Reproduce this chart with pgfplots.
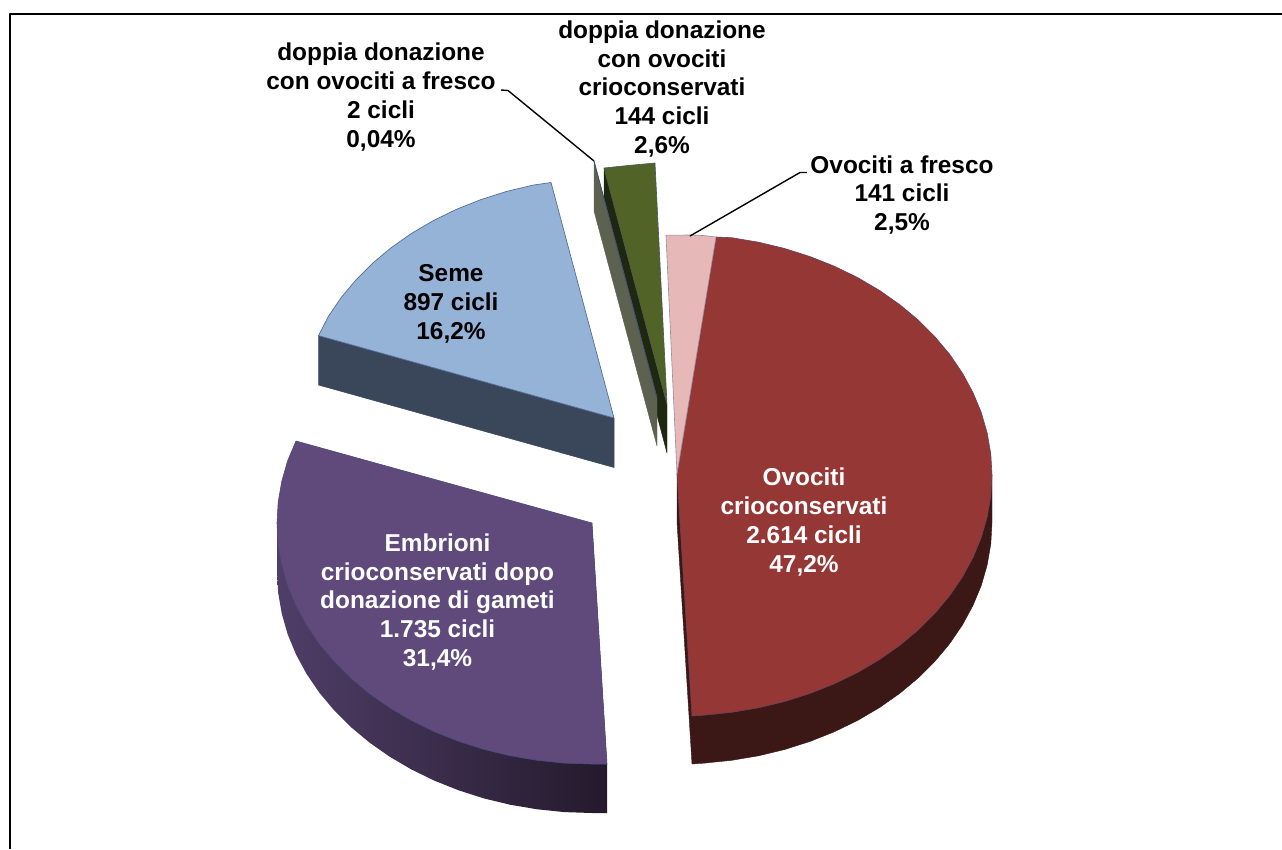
\documentclass[border=0pt]{standalone}
\usepackage{fontspec}
\setmainfont{Liberation Sans}
\usepackage{pgfplots}
\pgfplotsset{compat=1.18}
\definecolor{edge}{HTML}{3A4F80}
\definecolor{redtop}{HTML}{953735}
\definecolor{redside}{HTML}{3B1715}
\definecolor{purtop}{HTML}{604A7B}
\definecolor{pursideL}{HTML}{4F3E68}
\definecolor{pursideR}{HTML}{241A2C}
\definecolor{blutop}{HTML}{95B3D7}
\definecolor{bluside}{HTML}{3A475A}
\definecolor{pinktop}{HTML}{E6B9B8}
\definecolor{grntop}{HTML}{526328}
\definecolor{grnside}{HTML}{1F2710}
\definecolor{greyside}{HTML}{5C6150}
\tikzset{lbl/.style={align=center, font=\fontsize{24.4}{28.7}\selectfont\bfseries, inner sep=0pt}}
\begin{document}
\begin{tikzpicture}
\path[use as bounding box] (0,0) rectangle (1282pt,849pt);
\begin{axis}[
  at={(0,0)}, anchor=south west,
  scale only axis, width=1282pt, height=849pt,
  xmin=0, xmax=1282, ymin=0, ymax=849, y dir=reverse,
  hide axis, clip=true,
  every axis plot/.append style={line join=round},
]
% blue slice
\addplot[fill=bluside, draw=bluside, line width=0.5pt] coordinates {(318.5,335.6)(614,418)(614,467.5)(318.5,385)} --cycle;
\addplot[fill=blutop, draw=edge!70!blutop, line width=0.7pt] coordinates {(614,418)(318.5,335.6)(328.5,316.2)(341.2,297.5)(356,279.8)(372.7,263.1)(391.3,247.6)(411.5,233.4)(433.3,220.6)(456.5,209.3)(480.9,199.6)(506.3,191.5)(532.5,185.2)(551,182.5)} --cycle;
% purple slice
\addplot[left color=pursideL, right color=pursideR, draw=none] coordinates {(277,523)(592,523)(607,764)(607,813)(592,813)(564.5,812.1)(537.3,809.3)(510.5,804.8)(484.3,798.5)(458.9,790.4)(434.5,780.7)(411.3,769.4)(389.5,756.6)(369.3,742.4)(350.7,726.9)(334,710.2)(319.2,692.5)(306.5,673.8)(296,654.4)(287.7,634.4)(281.8,613.8)(278.2,593)(277,572)} --cycle;
\addplot[fill=purtop, draw=edge!60!purtop, line width=0.6pt] coordinates {(592,523)(607,764)(592,764)(564.5,763.1)(537.3,760.3)(510.5,755.8)(484.3,749.5)(458.9,741.4)(434.5,731.7)(411.3,720.4)(389.5,707.6)(369.3,693.4)(350.7,677.9)(334,661.2)(319.2,643.5)(306.5,624.8)(296,605.4)(287.7,585.4)(281.8,564.8)(278.2,544)(277,523)(278.2,502)(281.8,481.2)(287.7,460.6)(296,441)} --cycle;
% dark green slice side
\addplot[fill=grnside, draw=grnside, line width=0.4pt] coordinates {(604,168)(667,405)(667,453)(604,216)} --cycle;
% tiny grey slice side
\addplot[fill=greyside, draw=greyside, line width=0.4pt] coordinates {(594,161)(657,398)(657,446)(594,211)} --cycle;
\addplot[draw=edge, line width=0.8pt] coordinates {(594,161)(657,398)};
% green top
\addplot[fill=grntop, draw=edge!50!grntop, line width=0.6pt] coordinates {(667,404)(604,168)(630,165.3)(655,163)} --cycle;
% red slice
\addplot[fill=redside, draw=redside, line width=0.4pt] coordinates {(992,475)(677,474)(677,522)(692,764)(704.5,763.1)(731.7,760.3)(758.5,755.8)(784.7,749.5)(810.1,741.4)(834.5,731.7)(857.7,720.4)(879.5,707.6)(899.7,693.4)(918.3,677.9)(935,661.2)(949.8,643.5)(962.5,624.8)(973,605.4)(981.3,585.4)(987.2,564.8)(990.8,544)(992,523)} --cycle;
\addplot[fill=redtop, draw=edge!50!redtop, line width=0.6pt] coordinates {(677,474)(716,237)(731.7,237.7)(758.5,242.2)(784.7,248.5)(810.1,256.6)(834.5,266.3)(857.7,277.6)(879.5,290.4)(899.7,304.6)(918.3,320.1)(935,336.8)(949.8,354.5)(962.5,373.2)(973,392.6)(981.3,412.6)(987.2,433.2)(990.8,454)(992,475)(990.8,496)(987.2,516.8)(981.3,537.4)(973,557.4)(962.5,576.8)(949.8,595.5)(935,613.2)(918.3,629.9)(899.7,645.4)(879.5,659.6)(857.7,672.4)(834.5,683.7)(810.1,693.4)(784.7,701.5)(758.5,707.8)(731.7,712.3)(704.5,715.1)(692,716)} --cycle;
% pink slice
\addplot[fill=pinktop, draw=edge!45!pinktop, line width=0.6pt] coordinates {(677,474)(666,235.2)(690,235)(704.5,235.6)(716,237)} --cycle;
% leader lines
\addplot[draw=black, line width=1.4pt] coordinates {(501,90)(508,90.5)(594,161)};
\addplot[draw=black, line width=1.4pt] coordinates {(690,236)(800,172.5)(807,172.5)};
% frame
\addplot[draw=black, line width=2pt] coordinates {(10,849)(10,14)(1282,14)};
% labels
\node[lbl] at (axis cs:381,97) {doppia donazione\\con ovociti a fresco\\2 cicli\\0,04\%};
\node[lbl] at (axis cs:662,89) {doppia donazione\\con ovociti\\crioconservati\\144 cicli\\2,6\%};
\node[lbl] at (axis cs:902,195) {Ovociti a fresco\\141 cicli\\2,5\%};
\node[lbl] at (axis cs:451,304) {Seme\\897 cicli\\16,2\%};
\node[lbl, text=white] at (axis cs:804,522) {Ovociti\\crioconservati\\2.614 cicli\\47,2\%};
\node[lbl, text=white] at (axis cs:437.5,602) {Embrioni\\crioconservati dopo\\donazione di gameti\\1.735 cicli\\31,4\%};
\end{axis}
\end{tikzpicture}
\end{document}
